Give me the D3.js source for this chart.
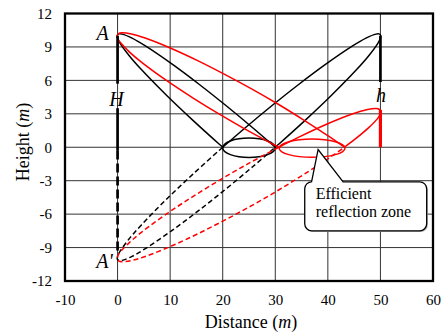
<!DOCTYPE html>
<html>
<head>
<meta charset="utf-8">
<script src="https://cdn.jsdelivr.net/npm/d3@7"></script>
<style>
  body { margin: 0; background: #fff; }
  svg { display: block; }
  svg text { font-family: 'Liberation Serif', serif; }
</style>
</head>
<body>
<svg id="chart" width="446" height="333"></svg>
<script>
/* axis ticks */
const xTicks = [-10, 0, 10, 20, 30, 40, 50, 60]
const yTicks = [-12, -9, -6, -3, 0, 3, 6, 9, 12]

/* black zone (receiver h = 10 m) */
const blackNear = [[20.0, 0], [19.3, 0.29], [14.34, 2.41], [9.4, 4.62], [4.53, 6.97], [2.14, 8.26],
  [0.52, 9.3], [0.09, 9.68], [-0.06, 10.03], [0.29, 10.17], [0.86, 10.15], [2.75, 9.79], [5.37, 9.07],
  [10.52, 7.41], [15.62, 5.61], [20.67, 3.72], [25.7, 1.75], [30.0, 0]]
const blackFar = [[20.0, 0], [24.3, 1.75], [29.33, 3.72], [34.38, 5.61], [39.48, 7.41], [44.63, 9.07],
  [47.25, 9.79], [49.14, 10.15], [49.71, 10.17], [50.06, 10.03], [49.91, 9.68], [49.48, 9.3],
  [47.86, 8.26], [45.47, 6.97], [40.6, 4.62], [35.67, 2.41], [30.7, 0.29], [30.0, 0]]
const blackImage = [[20.0, 0], [19.3, -0.29], [14.34, -2.41], [9.4, -4.62], [4.53, -6.97], [2.14, -8.26],
  [0.52, -9.3], [0.09, -9.68], [-0.06, -10.03], [0.29, -10.17], [0.86, -10.15], [2.75, -9.79], [5.37, -9.07],
  [10.52, -7.41], [15.62, -5.61], [20.67, -3.72], [25.7, -1.75], [30.0, 0]]
const blackGround = { cx: 25, cy: -0.05, rx: 5, ry: 0.87 }

/* red zone (receiver h = 3.2 m) */
const redNear = [[30.67, 0], [29.54, 0.28], [24.52, 1.56], [19.51, 2.92], [14.53, 4.36], [9.57, 5.9],
  [4.65, 7.59], [2.23, 8.56], [0.57, 9.37], [0.11, 9.69], [-0.07, 10.02], [0.25, 10.21], [0.8, 10.27],
  [2.65, 10.16], [5.24, 9.8], [10.35, 8.84], [15.42, 7.73], [20.46, 6.52], [25.49, 5.24], [30.49, 3.88],
  [35.42, 2.44], [40.43, 0.9], [43.14, 0]]
const redFar = [[30.67, 0], [34.58, 0.93], [39.65, 2.04], [44.76, 3.0], [47.35, 3.36], [49.2, 3.47],
  [49.75, 3.41], [50.07, 3.22], [49.89, 2.89], [49.44, 2.57], [47.77, 1.76], [45.35, 0.79], [43.14, 0]]
const redImage = [[30.67, 0], [29.54, -0.28], [24.52, -1.56], [19.51, -2.92], [14.53, -4.36], [9.57, -5.9],
  [4.65, -7.59], [2.23, -8.56], [0.57, -9.37], [0.11, -9.69], [-0.07, -10.02], [0.25, -10.21], [0.8, -10.27],
  [2.65, -10.16], [5.24, -9.8], [10.35, -8.84], [15.42, -7.73], [20.46, -6.52], [25.49, -5.24], [30.49, -3.88],
  [35.42, -2.44], [40.43, -0.9], [43.14, 0]]
const redGround = { cx: 37.0, cy: -0.08, rx: 6.25, ry: 0.82 }

/* source / receiver bars: [x, yTop, yBottom] */
const sourceBars = [[0, 10, 5.7], [0, 3.5, -0.3]]
const sourceImageBar = [0, -0.3, -9.3]
const receiverBlackBar = [50, 10, 5.85]
const receiverRedBar = [50, 3.35, 0]

/* callout, in data units */
const calloutTip = [38.15, -0.2]
const calloutBase = [36.9, 42.9]
const calloutBox = { x0: 35.6, x1: 58.8, y0: -3.1, y1: -7.5 }
const calloutText = ['Efficient', 'reflection zone']

const FONT = "'Liberation Serif', serif"
const margin = { top: 13.5, right: 13, bottom: 52, left: 65 }
const width = 446 - margin.left - margin.right
const height = 333 - margin.top - margin.bottom

const svg = d3.select('#chart')
const g = svg.append('g').attr('transform', `translate(${margin.left},${margin.top})`)
  .attr('font-family', FONT)

const x = d3.scaleLinear().domain([-10, 60]).range([0, width])
const y = d3.scaleLinear().domain([-12, 12]).range([height, 0])

/* grid */
g.append('g').selectAll('line')
  .data(xTicks).enter().append('line')
  .attr('x1', d => x(d)).attr('x2', d => x(d))
  .attr('y1', 0).attr('y2', height)
  .attr('stroke', '#333').attr('stroke-width', 1)
g.append('g').selectAll('line')
  .data(yTicks).enter().append('line')
  .attr('x1', 0).attr('x2', width)
  .attr('y1', d => y(d)).attr('y2', d => y(d))
  .attr('stroke', '#333').attr('stroke-width', 1)

/* axes */
const xAxis = g.append('g').attr('transform', `translate(0,${height})`)
  .call(d3.axisBottom(x).tickValues(xTicks).tickFormat(d => String(d)).tickSize(0).tickPadding(13.5))
const yAxis = g.append('g')
  .call(d3.axisLeft(y).tickValues(yTicks).tickFormat(d => String(d)).tickSize(0).tickPadding(13))
for (const ax of [xAxis, yAxis]) {
  ax.attr('font-family', FONT).attr('font-size', 15)
  ax.select('.domain').remove()
  ax.selectAll('text').attr('fill', '#000')
}

const line = d3.line().x(d => x(d[0])).y(d => y(d[1])).curve(d3.curveCatmullRom.alpha(0.5))

function zone (near, far, image, ground, colour) {
  for (const pts of [near, far]) {
    g.append('path').attr('d', line(pts)).attr('fill', 'none')
      .attr('stroke', colour).attr('stroke-width', 1.5)
  }
  g.append('path').attr('d', line(image)).attr('fill', 'none')
    .attr('stroke', colour).attr('stroke-width', 1.5).attr('stroke-dasharray', '5,3')
  g.append('ellipse')
    .attr('cx', x(ground.cx)).attr('cy', y(ground.cy))
    .attr('rx', x(ground.cx + ground.rx) - x(ground.cx))
    .attr('ry', y(0) - y(ground.ry))
    .attr('fill', 'none').attr('stroke', colour).attr('stroke-width', 1.5)
}

zone(blackNear, blackFar, blackImage, blackGround, '#000')
zone(redNear, redFar, redImage, redGround, '#ff0000')

/* bars */
function bar (b, colour, w, dash) {
  g.append('line')
    .attr('x1', x(b[0])).attr('x2', x(b[0]))
    .attr('y1', y(b[1])).attr('y2', y(b[2]))
    .attr('stroke', colour).attr('stroke-width', w)
    .attr('stroke-dasharray', dash || null)
}
sourceBars.forEach(b => bar(b, '#000', 2.7))
bar(sourceImageBar, '#000', 2.7, '9,4')
bar(receiverBlackBar, '#000', 2.7)
bar(receiverRedBar, '#ff0000', 3.2)

/* point labels */
const labels = [
  { t: 'A', px: 0, py: 10, dx: -15, dy: 4, anchor: 'middle' },
  { t: 'H', px: 0, py: 4.2, dx: -1, dy: 6, anchor: 'middle' },
  { t: 'h', px: 50, py: 4.5, dx: 0.5, dy: 5, anchor: 'middle' },
  { t: "A'", px: 0, py: -10, dx: -13, dy: 9.5, anchor: 'middle' }
]
g.selectAll('text.pt')
  .data(labels).enter().append('text').attr('class', 'pt')
  .attr('x', d => x(d.px) + d.dx).attr('y', d => y(d.py) + d.dy)
  .attr('text-anchor', d => d.anchor)
  .attr('font-size', 20).attr('font-style', 'italic')
  .text(d => d.t)

/* callout */
const bx0 = x(calloutBox.x0)
const bx1 = x(calloutBox.x1)
const by0 = y(calloutBox.y0)
const by1 = y(calloutBox.y1)
const r = 7
const tipX = x(calloutTip[0])
const tipY = y(calloutTip[1])
const path = d3.path()
path.moveTo(bx0 + r, by0)
path.lineTo(x(calloutBase[0]), by0)
path.lineTo(tipX, tipY)
path.lineTo(x(calloutBase[1]), by0)
path.lineTo(bx1 - r, by0)
path.arcTo(bx1, by0, bx1, by0 + r, r)
path.lineTo(bx1, by1 - r)
path.arcTo(bx1, by1, bx1 - r, by1, r)
path.lineTo(bx0 + r, by1)
path.arcTo(bx0, by1, bx0, by1 - r, r)
path.lineTo(bx0, by0 + r)
path.arcTo(bx0, by0, bx0 + r, by0, r)
path.closePath()
g.append('path').attr('d', path.toString())
  .attr('transform', 'translate(1.2,1.2)')
  .attr('fill', '#bbb').attr('stroke', 'none')
g.append('path').attr('d', path.toString())
  .attr('fill', '#fff').attr('stroke', '#000').attr('stroke-width', 1.3)
g.selectAll('text.callout')
  .data(calloutText).enter().append('text').attr('class', 'callout')
  .attr('x', bx0 + 11).attr('y', (d, i) => by0 + 17 + i * 18)
  .attr('font-size', 16)
  .text(d => d)

/* frame */
g.append('rect').attr('width', width).attr('height', height)
  .attr('fill', 'none').attr('stroke', '#000').attr('stroke-width', 2.3)

/* axis titles */
const xt = g.append('text').attr('x', width / 2 + 2).attr('y', height + 47)
  .attr('text-anchor', 'middle').attr('font-size', 18)
xt.append('tspan').text('Distance (')
xt.append('tspan').attr('font-style', 'italic').text('m')
xt.append('tspan').text(')')

const yt = svg.append('text').attr('transform', 'translate(29,142) rotate(-90)')
  .attr('text-anchor', 'middle').attr('font-size', 18).attr('font-family', FONT)
yt.append('tspan').text('Height (')
yt.append('tspan').attr('font-style', 'italic').text('m')
yt.append('tspan').text(')')
</script>
</body>
</html>
